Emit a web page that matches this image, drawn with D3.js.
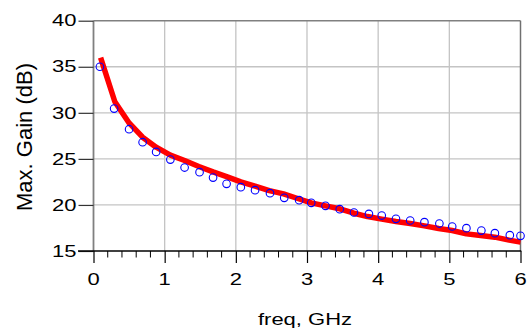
<!DOCTYPE html>
<html><head><meta charset="utf-8">
<script src="https://cdn.jsdelivr.net/npm/d3@7/dist/d3.min.js"></script>
<style>body{margin:0;background:#fff}svg{display:block}text{font-family:"Liberation Sans",Arial,sans-serif}</style>
</head><body>
<script>
const freqCircles = [0.09,0.29,0.50,0.69,0.88,1.08,1.28,1.49,1.68,1.87,2.07,2.27,2.48,2.68,2.89,3.06,3.26,3.46,3.66,3.87,4.05,4.25,4.45,4.65,4.86,5.04,5.24,5.45,5.64,5.85,6.0];
const gainCircles = [35.0,30.46,28.22,26.81,25.76,24.92,24.06,23.56,22.97,22.29,21.93,21.6,21.28,20.77,20.52,20.23,19.9,19.54,19.18,19.03,18.85,18.49,18.31,18.13,17.98,17.66,17.48,17.22,16.94,16.72,16.65];
const freqLine = [0.1,0.3,0.5,0.69,0.88,1.08,1.28,1.48,1.68,1.87,2.07,2.27,2.47,2.67,2.87,3.06,3.26,3.46,3.66,3.85,4.05,4.25,4.45,4.65,4.85,5.04,5.24,5.44,5.64,5.84,6.0];
const gainLine = [36.0,31.2,28.9,27.35,26.27,25.4,24.82,24.17,23.59,23.08,22.5,22.05,21.56,21.2,20.7,20.23,19.9,19.58,19.1,18.74,18.46,18.2,17.98,17.73,17.44,17.22,16.86,16.68,16.5,16.18,15.96];
const xTicks = [0,1,2,3,4,5,6];
const yTicks = [15,20,25,30,35,40];
const xLabel = "freq, GHz";
const yLabel = "Max. Gain (dB)";

const W=531,H=333, FS=22, SY=0.72;
const svg=d3.select("body").append("svg").attr("width",W).attr("height",H);
const x=d3.scaleLinear().domain([0,6]).range([93.5,520.5]);
const y=d3.scaleLinear().domain([15,40]).range([251,20.7]);

// grid
svg.append("g").selectAll("line").data(xTicks.filter(d=>d>0&&d<6)).join("line")
  .attr("x1",d=>x(d)).attr("x2",d=>x(d)).attr("y1",y(40)).attr("y2",y(15))
  .attr("stroke","#c4c4c4").attr("stroke-width",1.3);
svg.append("g").selectAll("line").data(yTicks.filter(d=>d>15&&d<40)).join("line")
  .attr("x1",x(0)).attr("x2",x(6)).attr("y1",d=>y(d)).attr("y2",d=>y(d))
  .attr("stroke","#c4c4c4").attr("stroke-width",1.3);
// frame
svg.append("line").attr("x1",x(0)).attr("x2",x(6)).attr("y1",y(40)).attr("y2",y(40)).attr("stroke","#808080").attr("stroke-width",1.5);
svg.append("line").attr("x1",x(6)).attr("x2",x(6)).attr("y1",y(40)).attr("y2",y(15)).attr("stroke","#707070").attr("stroke-width",1.5);
svg.append("line").attr("x1",x(0)).attr("x2",x(0)).attr("y1",y(40)).attr("y2",y(15)).attr("stroke","#808080").attr("stroke-width",1.8);

// y axis ticks
const ya=d3.axisLeft(y).tickValues(yTicks).tickSize(15).tickFormat("");
const gy=svg.append("g").attr("transform",`translate(${x(0)},0)`).call(ya);
gy.select(".domain").remove();
gy.selectAll(".tick line").attr("stroke","#333").attr("stroke-width",1.2);
svg.append("g").selectAll("text").data(yTicks).join("text")
  .attr("transform",d=>`translate(76.5,${y(d)+5.7}) scale(1,${SY})`)
  .attr("text-anchor","end").attr("font-size",FS).attr("fill","#000").text(d=>d);

// x axis minor
const minor=d3.range(0,30).map(i=>i*0.2).filter(d=>Math.abs(d-Math.round(d))>1e-6);
svg.append("g").selectAll("line").data(minor).join("line")
  .attr("x1",d=>x(d)).attr("x2",d=>x(d)).attr("y1",y(15)).attr("y2",y(15)+6.5)
  .attr("stroke","#000").attr("stroke-width",1);
const xa=d3.axisBottom(x).tickValues(xTicks).tickSize(12).tickFormat("");
const gx=svg.append("g").attr("transform",`translate(0,${y(15)})`).call(xa);
gx.select(".domain").remove();
gx.selectAll(".tick line").attr("stroke","#000").attr("stroke-width",1.2);
svg.append("g").selectAll("text").data(xTicks).join("text")
  .attr("transform",d=>`translate(${x(d)},284.5) scale(1,${SY})`)
  .attr("text-anchor","middle").attr("font-size",FS).attr("fill","#000").text(d=>d);
svg.append("line").attr("x1",78).attr("x2",x(6)+0.75).attr("y1",y(15)).attr("y2",y(15)).attr("stroke","#000").attr("stroke-width",1.3);

// labels
svg.append("text").attr("transform",`translate(305,324.5) scale(1,${SY})`).attr("text-anchor","middle").attr("font-size",FS).text(xLabel);
svg.append("text").attr("transform",`translate(32,137) rotate(-90)`).attr("text-anchor","middle").attr("font-size",FS).text(yLabel);

// data
const lineData=freqLine.map((f,i)=>[f,gainLine[i]]);
svg.append("path").datum(lineData).attr("d",d3.line().x(d=>x(d[0])).y(d=>y(d[1])))
  .attr("fill","none").attr("stroke","#ff0000").attr("stroke-width",5.5).attr("stroke-linejoin","round");
svg.append("g").selectAll("circle").data(freqCircles.map((f,i)=>[f,gainCircles[i]])).join("circle")
  .attr("cx",d=>x(d[0])).attr("cy",d=>y(d[1])).attr("r",3.8)
  .attr("fill","none").attr("stroke","#0000ff").attr("stroke-width",1.1);
</script>
</body></html>
